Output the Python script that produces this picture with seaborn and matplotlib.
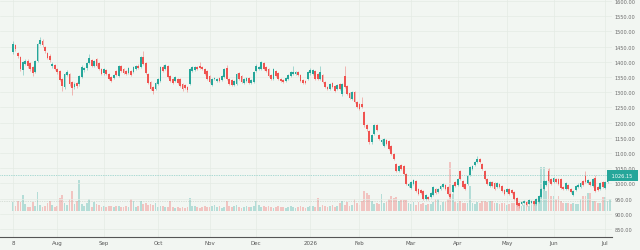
import numpy as np
import pandas as pd
import matplotlib
matplotlib.use('Agg')
import matplotlib.pyplot as plt
import matplotlib.transforms as mtransforms
import seaborn as sns

sns.set_theme(style='white')
plt.rcParams['font.family'] = 'DejaVu Sans'

# sessoes NSE (dias uteis menos feriados, mais a sessao especial do orcamento)
start, end = '2025-07-08', '2026-07-03'
holidays = ['2025-08-15', '2025-08-27', '2025-10-02', '2025-10-22', '2025-11-05',
            '2025-12-25', '2026-01-15', '2026-01-26', '2026-03-03', '2026-03-26',
            '2026-03-31', '2026-04-03', '2026-04-14', '2026-05-01', '2026-05-28',
            '2026-06-26']
extra_sessions = ['2026-02-01']

opens = [
    1432, 1455, 1428, 1415, 1373, 1393, 1403, 1396, 1383, 1366, 1403, 1459, 1468, 1449, 1429, 1419, 1386, 1389,
    1376, 1370, 1343, 1317, 1357, 1360, 1334, 1317, 1330, 1327, 1350, 1372, 1378, 1396, 1406, 1386, 1409, 1396, 1376, 1363,
    1373, 1360, 1350, 1347, 1370, 1353, 1386, 1376, 1370, 1363, 1370, 1366, 1376, 1386, 1383, 1416, 1396, 1360, 1334, 1317, 1310, 1327, 1337,
    1383, 1376, 1386, 1353, 1343, 1337, 1343, 1343, 1327, 1324, 1317, 1327, 1370, 1373, 1383, 1386, 1383, 1376, 1370, 1353, 1324, 1343,
    1337, 1347, 1340, 1350, 1380, 1343, 1340, 1324, 1327, 1363, 1353, 1330, 1337, 1347, 1330, 1334, 1370, 1376, 1376,
    1396, 1383, 1376, 1357, 1343, 1370, 1363, 1343, 1340, 1337, 1343, 1353, 1360, 1360, 1366, 1357, 1340, 1337, 1343, 1362, 1360, 1370, 1360,
    1343, 1357, 1334, 1317, 1310, 1330, 1320, 1310, 1327, 1294, 1353, 1320, 1297, 1278, 1301, 1268, 1261, 1261, 1235, 1192,
    1172, 1136, 1162, 1192, 1159, 1136, 1123, 1143, 1139, 1123, 1097, 1064, 1041, 1060, 1057, 1031,
    991, 985, 998, 1008, 981, 978, 975, 949, 955, 955,
    962, 981, 971, 981, 988, 995, 988, 965, 971, 1004,
    995, 1041, 1008, 998, 998, 1027, 1047, 1060, 1070, 1080,
    1064, 1041, 1014, 991, 1004, 1001, 988, 998, 991, 978,
    971, 981, 978, 971, 952, 935, 932, 935, 939, 932,
    935, 942, 932, 939, 955, 981, 995, 1041, 1014, 1004,
    1014, 1014, 1014, 988, 981, 995, 981, 962, 978, 988,
    988, 1008, 1024, 1001, 1004, 991, 1018, 988, 981, 1004, 985, 1004, 1018,
]
closes = [
    1459, 1442, 1420, 1376, 1399, 1403, 1386, 1376, 1363, 1403, 1459, 1472, 1455, 1436, 1412, 1406, 1393, 1376,
    1366, 1340, 1320, 1360, 1366, 1327, 1314, 1327, 1320, 1353, 1383, 1380, 1396, 1412, 1386, 1403, 1386, 1376, 1360, 1376,
    1360, 1343, 1337, 1357, 1357, 1386, 1370, 1363, 1360, 1380, 1357, 1383, 1386, 1380, 1416, 1393, 1363, 1330, 1310, 1304, 1330, 1343, 1383,
    1370, 1389, 1350, 1337, 1330, 1350, 1330, 1320, 1310, 1314, 1307, 1376, 1383, 1383, 1376, 1380, 1376, 1360, 1343, 1334, 1343, 1347,
    1343, 1337, 1353, 1376, 1343, 1327, 1324, 1337, 1360, 1343, 1334, 1343, 1347, 1330, 1340, 1366, 1386, 1383, 1399,
    1376, 1370, 1353, 1343, 1376, 1353, 1343, 1337, 1334, 1347, 1357, 1366, 1366, 1366, 1357, 1337, 1330, 1330, 1366, 1372, 1372, 1343, 1343,
    1366, 1334, 1317, 1310, 1327, 1317, 1304, 1324, 1310, 1327, 1317, 1294, 1281, 1301, 1268, 1251, 1245, 1251, 1192, 1179,
    1136, 1159, 1192, 1176, 1146, 1143, 1146, 1130, 1113, 1097, 1080, 1041, 1057, 1047, 1031, 998,
    998, 1004, 1011, 975, 965, 968, 949, 962, 949, 968,
    988, 968, 981, 991, 998, 981, 965, 955, 995, 991,
    1014, 1014, 988, 981, 1024, 1054, 1057, 1070, 1080, 1070,
    1047, 1014, 998, 1004, 991, 981, 1001, 988, 975, 965,
    981, 965, 968, 949, 929, 926, 939, 942, 929, 945,
    942, 932, 949, 958, 981, 1008, 1008, 1008, 998, 1018,
    1004, 998, 985, 981, 1001, 981, 971, 975, 991, 996,
    1001, 995, 1004, 1011, 995, 1014, 975, 978, 1001, 988, 1005, 1034, 1026.15,
]
highs = [
    1468, 1460, 1433, 1420, 1404, 1408, 1409, 1400, 1386, 1406, 1462, 1482, 1475, 1452, 1432, 1425, 1399, 1393,
    1380, 1373, 1347, 1363, 1372, 1364, 1338, 1332, 1335, 1357, 1388, 1384, 1400, 1425, 1410, 1407, 1413, 1399, 1380, 1380,
    1377, 1364, 1353, 1361, 1374, 1390, 1390, 1380, 1374, 1384, 1374, 1387, 1390, 1392, 1420, 1435, 1399, 1364, 1338, 1320, 1334, 1347, 1387,
    1388, 1393, 1390, 1357, 1347, 1354, 1347, 1347, 1331, 1328, 1321, 1380, 1387, 1387, 1387, 1400, 1387, 1380, 1374, 1357, 1347, 1351,
    1347, 1351, 1357, 1380, 1390, 1347, 1344, 1341, 1364, 1367, 1357, 1347, 1351, 1351, 1344, 1370, 1392, 1387, 1403,
    1400, 1387, 1380, 1361, 1380, 1374, 1367, 1347, 1344, 1351, 1361, 1370, 1385, 1370, 1370, 1361, 1344, 1341, 1370, 1380, 1376, 1374, 1364,
    1385, 1361, 1338, 1321, 1331, 1334, 1324, 1328, 1331, 1331, 1386, 1324, 1301, 1305, 1305, 1272, 1265, 1285, 1239, 1196,
    1176, 1163, 1196, 1196, 1163, 1147, 1150, 1147, 1143, 1127, 1101, 1068, 1061, 1064, 1061, 1035,
    1002, 1008, 1015, 1012, 985, 982, 979, 966, 959, 972,
    992, 985, 985, 995, 1002, 999, 992, 969, 999, 1008,
    1018, 1045, 1012, 1002, 1028, 1058, 1061, 1074, 1090, 1084,
    1068, 1045, 1018, 1008, 1008, 1005, 1005, 1002, 995, 982,
    985, 985, 982, 975, 956, 939, 943, 946, 943, 949,
    946, 946, 953, 962, 985, 1012, 1012, 1050, 1018, 1022,
    1018, 1018, 1018, 992, 1005, 999, 985, 979, 995, 1000,
    1005, 1012, 1040, 1015, 1008, 1018, 1027, 992, 1005, 1008, 1009, 1045, 1030,
]
lows = [
    1425, 1436, 1414, 1370, 1357, 1388, 1381, 1370, 1352, 1362, 1400, 1455, 1450, 1430, 1408, 1398, 1380, 1372,
    1360, 1336, 1305, 1312, 1352, 1322, 1290, 1310, 1315, 1322, 1346, 1368, 1374, 1392, 1382, 1382, 1382, 1372, 1356, 1358,
    1356, 1340, 1333, 1343, 1353, 1350, 1366, 1359, 1356, 1359, 1352, 1362, 1372, 1376, 1380, 1390, 1360, 1326, 1306, 1295, 1306, 1323, 1334,
    1366, 1372, 1346, 1333, 1326, 1333, 1326, 1316, 1305, 1310, 1302, 1323, 1366, 1369, 1372, 1376, 1372, 1356, 1339, 1330, 1320, 1339,
    1333, 1333, 1336, 1346, 1339, 1323, 1320, 1320, 1323, 1339, 1330, 1326, 1333, 1326, 1326, 1330, 1366, 1372, 1372,
    1372, 1366, 1349, 1339, 1339, 1349, 1339, 1333, 1330, 1333, 1339, 1349, 1356, 1356, 1353, 1333, 1326, 1326, 1339, 1358, 1356, 1339, 1339,
    1339, 1330, 1313, 1306, 1306, 1313, 1300, 1306, 1306, 1288, 1313, 1290, 1277, 1274, 1264, 1247, 1241, 1247, 1185, 1172,
    1130, 1130, 1158, 1172, 1142, 1130, 1119, 1126, 1109, 1093, 1076, 1037, 1037, 1043, 1027, 994,
    987, 981, 994, 971, 961, 964, 945, 945, 945, 951,
    958, 964, 967, 977, 984, 977, 961, 951, 967, 987,
    991, 1010, 984, 977, 994, 1023, 1043, 1056, 1066, 1066,
    1043, 1010, 994, 987, 987, 977, 984, 984, 971, 961,
    967, 961, 964, 945, 925, 920, 928, 931, 925, 928,
    931, 928, 928, 935, 951, 977, 991, 1004, 994, 1000,
    1000, 994, 981, 977, 977, 977, 967, 958, 974, 984,
    984, 991, 1000, 997, 991, 987, 971, 974, 977, 984, 981, 1000, 1014,
]
# volume em lakh de acoes
volumes = [
    9, 5, 10, 9, 16, 7, 4, 4, 9, 5, 19, 6, 4, 5, 8, 10, 6, 4, 5, 13,
    16, 8, 6, 12, 20, 7, 10, 31, 7, 5, 8, 12, 4, 9, 7, 6, 4, 5, 4, 5,
    5, 4, 5, 5, 4, 4, 5, 4, 12, 10, 4, 5, 10, 7, 8, 6, 7, 6, 8, 4,
    5, 5, 4, 4, 10, 4, 3, 4, 3, 4, 3, 4, 13, 5, 5, 4, 3, 4, 5, 4,
    4, 5, 6, 4, 5, 3, 4, 10, 5, 4, 5, 6, 4, 3, 4, 5, 4, 4, 5, 10,
    6, 4, 5, 4, 5, 4, 3, 4, 5, 4, 4, 3, 4, 5, 4, 3, 4, 5, 4, 3,
    4, 5, 5, 4, 13, 4, 6, 5, 4, 5, 6, 4, 5, 8, 10, 6, 9, 5, 6, 12,
    8, 6, 10, 20, 18, 16, 10, 7, 8, 7, 17, 8, 9, 12, 15, 13, 14, 10, 11, 11,
    11, 8, 7, 9, 6, 9, 7, 8, 6, 7, 7, 9, 12, 12, 6, 9, 9, 12, 49, 17,
    9, 8, 10, 8, 8, 8, 25, 8, 7, 9, 8, 10, 10, 9, 10, 10, 8, 8, 7, 8,
    8, 6, 7, 8, 8, 8, 8, 5, 6, 6, 5, 6, 10, 10, 12, 44, 44, 20, 42, 15,
    15, 12, 15, 10, 8, 8, 8, 7, 8, 7, 7, 12, 15, 15, 18, 18, 10, 10, 8, 8,
    14, 14, 10, 12,
]
price_ticks = list(range(850, 1601, 50))
ref_level = 942

dates = (pd.bdate_range(start, end)
         .difference(pd.DatetimeIndex(holidays))
         .union(pd.DatetimeIndex(extra_sessions)))
df = pd.DataFrame({'date': dates, 'open': opens, 'high': highs, 'low': lows,
                   'close': closes, 'volume': volumes})
df['pos'] = np.arange(len(df))
df['up'] = df['close'] >= df['open']

green = '#26a69a'
red = '#ef5350'
bg = '#f2f6f2'
colors = np.where(df['up'], green, red)

fig = plt.figure(figsize=(6.4, 2.51), dpi=100, facecolor=bg)
rect = [0, 13 / 251, 612 / 640, 238 / 251]
ax_vol = fig.add_axes(rect)
ax = fig.add_axes(rect, sharex=ax_vol)
ax_vol.set_zorder(0)
ax.set_zorder(1)
ax.patch.set_visible(False)

# volume por baixo
ax_vol.set_facecolor(bg)
ax_vol.bar(df['pos'], df['volume'], width=0.72, color=colors, alpha=0.3, linewidth=0)
ax_vol.set_ylim(-26, 212)
ax_vol.axis('off')

# velas
ax.vlines(df['pos'], df['low'], df['high'], colors=colors, linewidth=0.5, alpha=0.55)
ax.bar(df['pos'], df['close'] - df['open'], bottom=df['open'], width=0.72,
       color=colors, linewidth=0)

ax.set_xlim(-5.3, 243.8)
ax.set_ylim(823.6, 1606.6)

# linhas horizontais
last_close = df['close'].iloc[-1]
ax.axhline(last_close, color=green, lw=0.5, ls=(0, (1, 1.5)), alpha=0.7)
ax.axhline(ref_level, color='#9aa89a', lw=0.5, ls=(0, (1, 1.5)), alpha=0.6)

# eixo de precos a direita
ax.yaxis.tick_right()
ax.set_yticks(price_ticks)
ax.set_yticklabels([f'{p:.2f}' for p in price_ticks])
ax.tick_params(axis='y', length=0, pad=2, labelsize=3.6, labelcolor='#6b6b6b')

# eixo de datas
month_first = df.groupby(df['date'].dt.to_period('M'))['pos'].min()
tick_labels = []
for per in month_first.index:
    if per == month_first.index[0]:
        tick_labels.append(str(df['date'].iloc[0].day))
    elif per.month == 1:
        tick_labels.append(str(per.year))
    else:
        tick_labels.append(per.strftime('%b'))
ax.set_xticks(month_first.values)
ax.set_xticklabels(tick_labels)
ax.tick_params(axis='x', length=0, pad=2.5, labelsize=4, labelcolor='#555555')

ax.grid(True, color='#e4ebe4', lw=0.5)
ax.set_axisbelow(True)
for s in ['top', 'right', 'left']:
    ax.spines[s].set_visible(False)
ax.spines['bottom'].set_color('#555555')
ax.spines['bottom'].set_linewidth(0.8)

# etiqueta do ultimo preco
trans = mtransforms.blended_transform_factory(ax.transAxes, ax.transData)
ax.text(0.997, last_close, f' {last_close:.2f}  ', transform=trans, ha='left', va='center',
        fontsize=3.6, color='white', clip_on=False,
        bbox=dict(boxstyle='square,pad=0.55', fc=green, ec='none'))

plt.savefig('out.png', dpi=100, facecolor=bg)
